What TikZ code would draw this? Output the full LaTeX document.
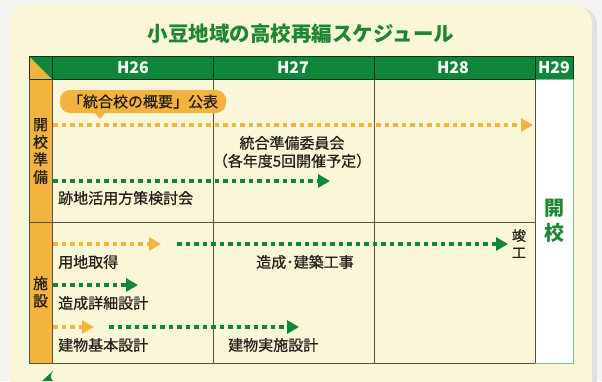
\documentclass[tikz,border=0pt]{standalone}
\usepackage{fontspec}
\setmainfont{Noto Sans CJK JP}
\newfontfamily\jpmed{Noto Sans CJK JP}[FakeBold=0.7]
\usetikzlibrary{arrows.meta}
\definecolor{cream}{RGB}{250,246,216}
\definecolor{hgreen}{RGB}{16,134,58}
\definecolor{tgreen}{RGB}{28,134,52}
\definecolor{org}{RGB}{242,180,62}
\definecolor{gridc}{RGB}{85,80,65}
\definecolor{txt}{RGB}{35,30,25}
\definecolor{outside}{RGB}{244,244,242}
\begin{document}
\begin{tikzpicture}[x=1pt,y=-1pt,
  dotarrow/.style={line width=3.5pt, dash pattern=on 4.5pt off 4pt, -{Triangle[length=12pt,width=13pt]}},
  odot/.style={dotarrow, draw=org},
  gdot/.style={dotarrow, draw=hgreen},
  lbl/.style={font=\jpmed\fontsize{15}{18}\selectfont, text=txt, inner sep=0pt},
  hdr/.style={font=\bfseries\fontsize{16}{18}\selectfont, text=white, inner sep=0pt},
  vert/.style={font=\jpmed\fontsize{15}{17.5}\selectfont, text=txt, inner sep=0pt, align=center},
  gridline/.style={draw=gridc, line width=0.8pt},
  bubble/.style={fill=org, rounded corners=10pt, minimum width=166pt, minimum height=23pt, inner sep=0pt, font=\jpmed\fontsize{15}{18}\selectfont, text=txt},
]
\useasboundingbox (0,0) rectangle (602,381);
\clip (0,0) rectangle (602,381);
\fill[outside] (0,0) rectangle (602,381);
\fill[black!12, rounded corners=18pt] (12,7) rectangle (597,420);
\fill[cream, rounded corners=18pt] (10,5) rectangle (592,420);

% title
\node[font=\bfseries\fontsize{20.5}{24}\selectfont, text=tgreen, inner sep=0pt] (title) at (301,34) {小豆地域の高校再編スケジュール};

% header
\fill[org] (29,56) -- (29,79) -- (52,79) -- cycle;
\fill[hgreen] (29,56) -- (52,56) -- (52,79) -- cycle;
\fill[hgreen] (52,56) rectangle (573,79);
\fill[org] (29,79) rectangle (52,363);
\fill[white] (535,79) rectangle (573,363);
\draw[black!60!hgreen, line width=0.8pt] (29,56) rectangle (573,79);
\draw[black!60!hgreen, line width=0.8pt] (52,56) -- (52,79) (213,56) -- (213,79) (374,56) -- (374,79) (535,56) -- (535,79);
\draw[hgreen!55, line width=0.8pt] (535,79) rectangle (573,363);

% grid
\draw[gridline] (29,79) -- (29,363) -- (535,363);
\draw[gridline] (52,79) -- (52,363);
\draw[gridline] (213,79) -- (213,363);
\draw[gridline] (374,79) -- (374,363);
\draw[gridline] (535,79) -- (535,363);
\draw[gridline] (29,222) -- (535,222);

\node[hdr] (h26) at (133,68) {H26};
\node[hdr] (h27) at (293,68) {H27};
\node[hdr] (h28) at (453,68) {H28};
\node[hdr] (h29) at (554,68) {H29};

% row labels
\node[vert] (kaiko) at (40.5,151) {開\\校\\準\\備};
\node[vert] (shisetsu) at (40.5,292) {施\\設};

% bubble
\node[bubble] (bub) at (143,101.5) {「統合校の概要」公表};
\fill[org] (94,112) -- (106,112) -- (100,119) -- cycle;

% arrows
\coordinate (a1s) at (53,125); \coordinate (a1e) at (533,125);
\coordinate (a2s) at (53,181); \coordinate (a2e) at (330,181);
\coordinate (a3s) at (53,244); \coordinate (a3e) at (161,244);
\coordinate (a4s) at (177,244); \coordinate (a4e) at (508,244);
\coordinate (a5s) at (53,285); \coordinate (a5e) at (138,285);
\coordinate (a6s) at (53,327); \coordinate (a6e) at (94,327);
\coordinate (a7s) at (109,327); \coordinate (a7e) at (299,327);
\draw[odot] (a1s) -- (a1e);
\draw[gdot] (a2s) -- (a2e);
\draw[odot] (a3s) -- (a3e);
\draw[gdot] (a4s) -- (a4e);
\draw[gdot] (a5s) -- (a5e);
\draw[odot] (a6s) -- (a6e);
\draw[gdot] (a7s) -- (a7e);

% texts
\node[lbl, align=center] (iinkai) at (292,152) {統合準備委員会\\（各年度5回開催予定）};
\node[lbl, anchor=west] (atochi) at (58,198) {跡地活用方策検討会};
\node[lbl, anchor=west] (yochi) at (58,262) {用地取得};
\node[lbl] (zosei) at (305,262) {造成･建築工事};
\node[lbl, anchor=west] (shosai) at (58,303) {造成詳細設計};
\node[lbl, anchor=west] (kihon) at (58,345) {建物基本設計};
\node[lbl, anchor=west] (jisshi) at (228,345) {建物実施設計};
\node[vert, font=\jpmed\fontsize{14}{17}\selectfont] (shunko) at (519,243.5) {竣\\工};
\node[font=\bfseries\fontsize{20}{25}\selectfont, text=tgreen, inner sep=0pt, align=center] (kaikoB) at (554,220.5) {開\\校};

% partial green mark at bottom
\fill[hgreen] (42,381) -- (53,371) .. controls (50,375) and (50,378) .. (53,381) -- cycle;
\end{tikzpicture}
\end{document}
